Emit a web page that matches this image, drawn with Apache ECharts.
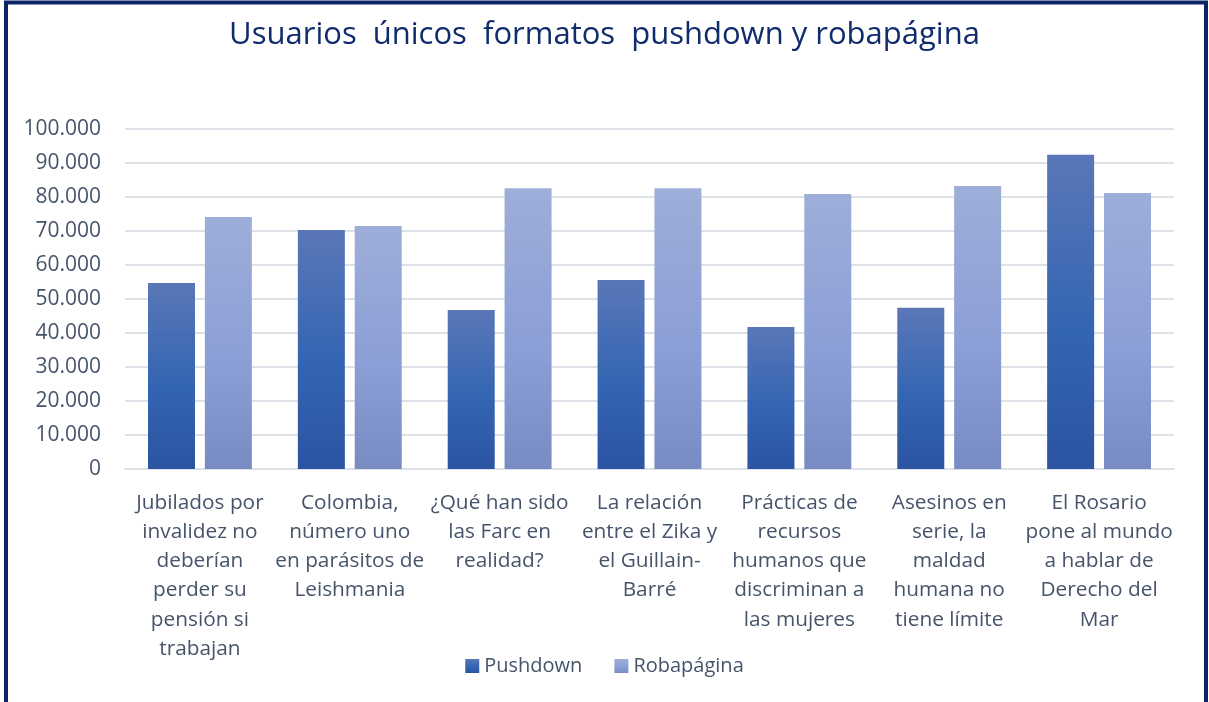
<!DOCTYPE html>
<html>
<head>
<meta charset="utf-8">
<script src="https://cdn.jsdelivr.net/npm/echarts@6/dist/echarts.min.js"></script>
<style>
  html, body { margin: 0; padding: 0; background: #fff; }
  #chart { width: 1209px; height: 702px; }
</style>
</head>
<body>
<div id="chart"></div>
<script>
const categories = [
  "Jubilados por\ninvalidez no\ndeberían\nperder su\npensión si\ntrabajan",
  "Colombia,\nnúmero uno\nen parásitos de\nLeishmania",
  "¿Qué han sido\nlas Farc en\nrealidad?",
  "La relación\nentre el Zika y\nel Guillain-\nBarré",
  "Prácticas de\nrecursos\nhumanos que\ndiscriminan a\nlas mujeres",
  "Asesinos en\nserie, la\nmaldad\nhumana no\ntiene límite",
  "El Rosario\npone al mundo\na hablar de\nDerecho del\nMar"
];
const pushdown = [54700, 70300, 46800, 55600, 41800, 47400, 92400];
const robapagina = [74100, 71500, 82600, 82600, 80900, 83200, 81200];

const chart = echarts.init(document.getElementById("chart"));

const labelFont = "'Open Sans', 'Noto Sans', sans-serif";
const labelColor = "#46546b";

const gradPush = new echarts.graphic.LinearGradient(0, 0, 0, 1, [
  { offset: 0, color: "#5a77b8" },
  { offset: 0.55, color: "#3465b2" },
  { offset: 1, color: "#2b54a2" }
]);
const gradRoba = new echarts.graphic.LinearGradient(0, 0, 0, 1, [
  { offset: 0, color: "#9eaed9" },
  { offset: 0.55, color: "#8c9fd6" },
  { offset: 1, color: "#788bc3" }
]);

const option = {
  animation: false,
  backgroundColor: "#ffffff",
  title: {
    text: "Usuarios  únicos  formatos  pushdown y robapágina",
    left: "center",
    top: 15,
    textStyle: {
      fontFamily: "'Open Sans', sans-serif",
      fontWeight: "normal",
      fontSize: 31,
      color: "#102c6c"
    }
  },
  graphic: [
    {
      type: "rect",
      shape: { x: 6, y: 2.5, width: 1200, height: 720 },
      style: { fill: "none", stroke: "#0b2466", lineWidth: 4 },
      silent: true
    }
  ],
  legend: {
    bottom: 21,
    left: "center",
    itemWidth: 14,
    itemHeight: 14,
    itemGap: 32,
    icon: "rect",
    textStyle: { fontFamily: labelFont, fontSize: 20, color: labelColor },
    data: ["Pushdown", "Robapágina"]
  },
  grid: {
    left: 125,
    right: 35,
    top: 129,
    bottom: 233
  },
  xAxis: {
    type: "category",
    data: categories,
    axisLine: { lineStyle: { color: "#dde1e8", width: 2 } },
    axisTick: { show: false },
    axisLabel: {
      interval: 0,
      margin: 19,
      fontFamily: labelFont,
      fontSize: 20.8,
      lineHeight: 29.3,
      color: labelColor,
      align: "center"
    }
  },
  yAxis: {
    type: "value",
    min: 0,
    max: 100000,
    interval: 10000,
    axisLine: { show: false },
    axisTick: { show: false },
    splitLine: { lineStyle: { color: "#dde1e8", width: 2 } },
    axisLabel: {
      margin: 24,
      fontFamily: labelFont,
      fontSize: 21,
      color: labelColor,
      formatter: function (v) {
        return v === 0 ? "0" : v.toLocaleString("de-DE");
      }
    }
  },
  series: [
    {
      name: "Pushdown",
      type: "bar",
      data: pushdown,
      barWidth: 47,
      barGap: "21%",
      itemStyle: { color: gradPush }
    },
    {
      name: "Robapágina",
      type: "bar",
      data: robapagina,
      barWidth: 47,
      itemStyle: { color: gradRoba }
    }
  ]
};

chart.setOption(option);

window.addEventListener("resize", () => chart.resize());
</script>
</body>
</html>
